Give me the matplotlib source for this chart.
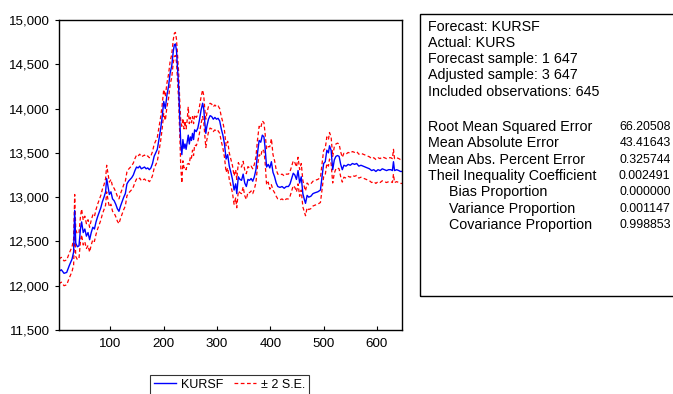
import matplotlib
matplotlib.use("Agg")
import matplotlib.pyplot as plt
from matplotlib.lines import Line2D
from matplotlib.patches import Rectangle
from matplotlib import font_manager
import numpy as np

plt.rcParams['font.family'] = ['Liberation Sans', 'DejaVu Sans']
_names = {f.name for f in font_manager.fontManager.ttflist}
if 'Liberation Sans Narrow' in _names:
    NUM_FONT = dict(family=['Liberation Sans Narrow', 'DejaVu Sans'], fontsize=10.2)
else:
    NUM_FONT = dict(family=['Liberation Sans', 'DejaVu Sans'], fontsize=8.9)

# observation index
obs = [3, 8, 13, 18, 23, 28, 31, 33, 35, 38, 41, 44, 46, 49, 52, 55, 58, 61, 64, 67,
       70, 73, 76, 79, 82, 85, 88, 91, 93, 96, 98, 101, 104, 107, 110, 113, 116, 119, 122, 125,
       128, 131, 134, 137, 140, 143, 146, 149, 152, 155, 158, 161, 164, 167, 170, 173, 176, 179, 182, 185,
       188, 191, 194, 197, 200, 203, 206, 209, 212, 215, 218, 220, 222, 224, 226, 228, 230, 232, 234, 236,
       238, 240, 242, 244, 246, 248, 250, 252, 254, 256, 258, 261, 264, 267, 270, 273, 275, 277, 279, 281,
       284, 287, 290, 293, 296, 299, 302, 305, 308, 311, 314, 317, 320, 323, 326, 329, 332, 335, 337, 340,
       343, 346, 349, 352, 355, 358, 361, 364, 367, 370, 373, 376, 379, 382, 385, 388, 390, 393, 396, 399,
       402, 405, 408, 411, 414, 418, 422, 426, 430, 434, 437, 440, 443, 446, 449, 452, 455, 458, 461, 464,
       466, 469, 472, 476, 480, 484, 489, 494, 497, 500, 503, 506, 509, 511, 514, 517, 520, 523, 526, 529,
       532, 535, 538, 542, 546, 550, 554, 558, 562, 566, 570, 574, 578, 582, 586, 590, 594, 598, 602, 606,
       610, 614, 618, 622, 626, 629, 631, 633, 637, 641, 644, 647]

# forecast KURSF
kursf = [12160, 12180, 12140, 12150, 12230, 12300, 12380, 12850, 12480, 12440, 12450, 12650, 12720, 12600, 12640, 12560, 12600, 12520, 12600, 12660,
         12640, 12720, 12780, 12830, 12880, 12950, 13000, 13060, 13210, 13100, 13030, 13060, 12980, 12960, 12920, 12870, 12840, 12900, 12950, 13000,
         13040, 13150, 13180, 13200, 13220, 13250, 13300, 13340, 13330, 13350, 13320, 13330, 13340, 13320, 13330, 13310, 13330, 13380, 13460, 13500,
         13540, 13650, 13760, 13900, 14080, 14000, 14150, 14250, 14400, 14480, 14650, 14720, 14730, 14650, 14450, 14250, 13900, 13600, 13480, 13650,
         13550, 13600, 13540, 13620, 13700, 13600, 13680, 13640, 13720, 13650, 13760, 13740, 13780, 13870, 13980, 14060, 14000, 13850, 13720, 13800,
         13880, 13920, 13910, 13880, 13900, 13880, 13890, 13860, 13770, 13700, 13600, 13430, 13480, 13350, 13280, 13200, 13080, 13150, 13040, 13230,
         13200, 13190, 13260, 13160, 13120, 13200, 13190, 13210, 13180, 13230, 13310, 13500, 13640, 13620, 13700, 13680, 13570, 13340, 13370, 13330,
         13400, 13280, 13230, 13160, 13120, 13110, 13120, 13100, 13120, 13120, 13150, 13210, 13270, 13250, 13200, 13300, 13160, 13230, 13040, 12970,
         12930, 13020, 13000, 13010, 13040, 13050, 13060, 13080, 13230, 13380, 13400, 13530, 13500, 13580, 13530, 13310, 13420, 13460, 13470, 13460,
         13370, 13310, 13360, 13350, 13370, 13360, 13380, 13370, 13380, 13350, 13360, 13350, 13340, 13330, 13320, 13300, 13310, 13290, 13310, 13300,
         13320, 13310, 13300, 13310, 13310, 13300, 13400, 13300, 13310, 13300, 13290, 13290]

# two standard errors
two_se = [140, 140, 140, 140, 140, 140, 145, 180, 150, 145, 145, 140, 145, 140, 145, 140, 145, 140, 140, 140,
          140, 140, 140, 140, 140, 140, 140, 150, 150, 150, 140, 140, 140, 140, 140, 140, 140, 140, 140, 140,
          140, 135, 135, 135, 135, 135, 135, 135, 135, 135, 135, 135, 135, 135, 135, 135, 135, 135, 135, 135,
          135, 135, 135, 135, 135, 135, 135, 135, 130, 130, 130, 130, 130, 130, 140, 160, 200, 260, 320, 240,
          220, 260, 230, 250, 320, 230, 220, 200, 190, 180, 170, 160, 150, 150, 150, 150, 150, 150, 160, 150,
          145, 140, 140, 140, 140, 140, 140, 140, 140, 145, 150, 150, 150, 150, 150, 155, 160, 160, 160, 160,
          150, 150, 145, 145, 145, 145, 140, 140, 140, 140, 145, 150, 160, 160, 160, 160, 160, 200, 200, 240,
          260, 200, 180, 150, 140, 140, 140, 140, 140, 140, 140, 140, 140, 140, 140, 150, 150, 150, 150, 140,
          140, 140, 140, 140, 140, 140, 140, 140, 140, 150, 150, 150, 150, 150, 150, 150, 150, 140, 140, 140,
          140, 140, 135, 135, 135, 135, 135, 135, 135, 135, 135, 135, 135, 135, 135, 135, 135, 135, 135, 135,
          135, 135, 135, 135, 135, 135, 140, 135, 135, 135, 135, 135]

y_ticks = [11500, 12000, 12500, 13000, 13500, 14000, 14500, 15000]
x_ticks = [100, 200, 300, 400, 500, 600]

stats_header = ["Forecast: KURSF", "Actual: KURS", "Forecast sample: 1 647",
                "Adjusted sample: 3 647", "Included observations: 645"]
stats_names = ["Root Mean Squared Error", "Mean Absolute Error", "Mean Abs. Percent Error",
               "Theil Inequality Coefficient", "Bias Proportion", "Variance Proportion",
               "Covariance Proportion"]
stats_values = ["66.20508", "43.41643", "0.325744", "0.002491", "0.000000", "0.001147", "0.998853"]
stats_indent = [False, False, False, False, True, True, True]

x = np.array(obs)
f = np.array(kursf, dtype=float)
se = np.array(two_se, dtype=float)

W, H = 673, 394
fig = plt.figure(figsize=(W / 100, H / 100), dpi=100)
ax = fig.add_axes([58.7 / W, 1 - 330 / H, (402 - 58.7) / W, (330 - 20) / H])

ax.plot(x, f + se, color='#ff0000', lw=0.9, ls=(0, (3, 2)))
ax.plot(x, f - se, color='#ff0000', lw=0.9, ls=(0, (3, 2)))
ax.plot(x, f, color='#0000ff', lw=1.0)

ax.set_xlim(3, 647)
ax.set_ylim(11500, 15000)
ax.set_xticks(x_ticks)
ax.set_yticks(y_ticks)
ax.set_yticklabels([f"{v:,}" for v in y_ticks])
ax.tick_params(axis='both', labelsize=9.6, colors='black', length=3, width=0.8)
ax.tick_params(axis='x', direction='in', pad=6)
for s in ax.spines.values():
    s.set_linewidth(1.0)
    s.set_color('black')

# legend
handles = [Line2D([], [], color='#0000ff', lw=1.0),
           Line2D([], [], color='#ff0000', lw=0.9, ls=(0, (3, 2)))]
leg = fig.legend(handles, ["KURSF", "± 2 S.E."], ncol=2, loc='upper left',
                 bbox_to_anchor=(150 / W, 1 - 375 / H), fontsize=9.0, frameon=True,
                 fancybox=False, edgecolor='black', handlelength=1.8, handletextpad=0.4,
                 columnspacing=0.8, borderpad=0.3, borderaxespad=0)
leg.get_frame().set_linewidth(0.8)

# statistics box
box = Rectangle((420 / W, 1 - 296 / H), 0.5, (296 - 14) / H,
                transform=fig.transFigure, fill=False, edgecolor='black', lw=1.0)
fig.add_artist(box)
y0 = 26.7
for i, t in enumerate(stats_header):
    fig.text(428.3 / W, 1 - (y0 + i * 16.25) / H, t, fontsize=10.3, va='center', ha='left')
y1 = 126.7
for i, (n, v, ind) in enumerate(zip(stats_names, stats_values, stats_indent)):
    yy = 1 - (y1 + i * 16.45) / H
    fig.text((449.3 if ind else 428.3) / W, yy, n, fontsize=10.3, va='center', ha='left')
    fig.text(670.5 / W, yy, v, va='center', ha='right', **NUM_FONT)

fig.savefig("out.png", dpi=100)
